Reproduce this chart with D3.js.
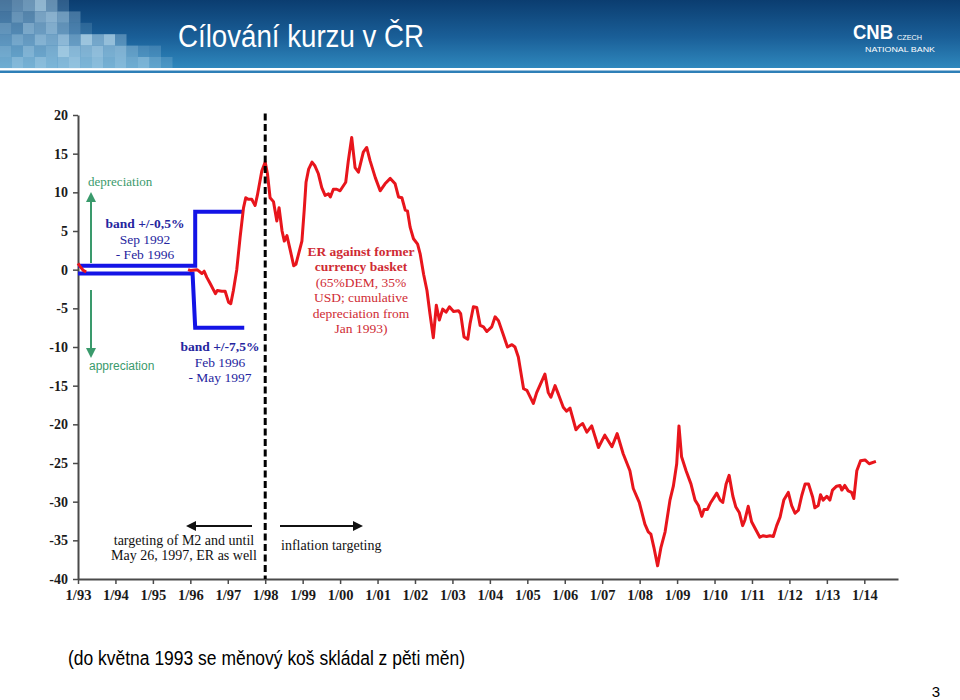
<!DOCTYPE html>
<html>
<head>
<meta charset="utf-8">
<script src="https://cdn.jsdelivr.net/npm/d3@7"></script>
<style>
body { margin: 0; background: #fff; }
svg { display: block; }
</style>
</head>
<body>
<svg id="chart" width="960" height="700"></svg>
<script>
// ER against former currency basket, cumulative % change since Jan 1993
var erTime = [1993.00, 1993.06, 1993.14, 1993.22, 1995.90,
  1995.94, 1996.00, 1996.18, 1996.31, 1996.37, 1996.44, 1996.53, 1996.67, 1996.72, 1996.84,
  1996.93, 1997.02, 1997.08, 1997.15, 1997.24, 1997.33, 1997.42, 1997.48, 1997.55, 1997.64,
  1997.73, 1997.79, 1997.91, 1998.00, 1998.06, 1998.13, 1998.22, 1998.31, 1998.37, 1998.45,
  1998.51, 1998.58, 1998.67, 1998.76, 1998.82, 1998.89, 1998.98, 1999.04, 1999.09, 1999.16,
  1999.25, 1999.33, 1999.42, 1999.51, 1999.60, 1999.69, 1999.74, 1999.82, 1999.91, 2000.00,
  2000.15, 2000.22, 2000.31, 2000.40, 2000.49, 2000.62, 2000.71, 2000.80, 2000.94, 2001.07,
  2001.20, 2001.34, 2001.47, 2001.56, 2001.65, 2001.74, 2001.80, 2001.87, 2001.96, 2002.07,
  2002.14, 2002.23, 2002.32, 2002.40, 2002.49, 2002.57, 2002.65, 2002.74, 2002.83, 2002.92,
  2003.03, 2003.16, 2003.22, 2003.31, 2003.41, 2003.47, 2003.56, 2003.65, 2003.74, 2003.83,
  2003.92, 2004.05, 2004.14, 2004.23, 2004.35, 2004.47, 2004.59, 2004.67, 2004.76, 2004.90,
  2004.99, 2005.16, 2005.25, 2005.47, 2005.56, 2005.63, 2005.74, 2005.83, 2005.96, 2006.05,
  2006.14, 2006.30, 2006.39, 2006.48, 2006.59, 2006.72, 2006.90, 2007.07, 2007.26, 2007.40,
  2007.56, 2007.74, 2007.83, 2007.99, 2008.14, 2008.23, 2008.30, 2008.38, 2008.48, 2008.57,
  2008.68, 2008.81, 2008.90, 2008.99, 2009.05, 2009.12, 2009.24, 2009.37, 2009.48, 2009.57,
  2009.66, 2009.72, 2009.81, 2009.90, 2010.06, 2010.15, 2010.22, 2010.31, 2010.39, 2010.49,
  2010.57, 2010.66, 2010.75, 2010.81, 2010.90, 2010.99, 2011.11, 2011.21, 2011.30, 2011.39,
  2011.48, 2011.57, 2011.66, 2011.75, 2011.85, 2011.97, 2012.06, 2012.15, 2012.24, 2012.33,
  2012.42, 2012.51, 2012.62, 2012.68, 2012.77, 2012.83, 2012.90, 2013.00, 2013.08, 2013.15,
  2013.26, 2013.35, 2013.40, 2013.48, 2013.57, 2013.66, 2013.72, 2013.80, 2013.90, 2014.02,
  2014.13, 2014.31];
var erValue = [0.8, 0.4, -0.1, -0.3, null,
  0.0, -0.1, 0.0, -0.5, -0.2, -1.0, -1.8, -3.1, -2.7, -2.8,
  -2.8, -4.2, -4.4, -2.7, 0.0, 4.2, 8.0, 9.3, 9.1, 9.1,
  8.3, 9.6, 12.8, 13.9, 12.4, 9.3, 8.8, 6.3, 8.0, 5.0,
  3.7, 4.4, 2.5, 0.5, 0.7, 2.0, 3.7, 7.6, 11.3, 13.0,
  13.9, 13.4, 12.4, 10.6, 9.6, 9.8, 9.4, 10.4, 10.4, 10.2,
  11.3, 14.1, 17.1, 13.2, 12.6, 15.2, 15.8, 14.1, 11.9, 10.2,
  11.1, 11.8, 11.1, 9.4, 9.3, 7.7, 7.6, 5.5, 4.0, 3.3,
  2.0, -0.6, -2.7, -5.7, -8.8, -4.6, -6.5, -5.1, -5.5, -4.8,
  -5.4, -5.3, -5.7, -8.7, -9.0, -7.0, -4.8, -4.9, -7.2, -7.4,
  -8.0, -7.4, -6.1, -6.6, -8.3, -10.0, -9.7, -10.0, -11.3, -15.4,
  -15.6, -17.3, -15.9, -13.5, -15.9, -16.5, -15.0, -16.1, -17.8, -18.3,
  -17.9, -20.7, -20.2, -19.9, -21.0, -20.2, -23.0, -21.4, -22.9, -21.2,
  -23.8, -26.0, -28.3, -30.1, -32.9, -33.9, -34.2, -35.9, -38.3, -35.9,
  -33.9, -29.8, -28.0, -25.1, -20.2, -24.2, -26.0, -27.7, -29.8, -30.5,
  -31.9, -31.0, -31.0, -30.1, -28.9, -29.8, -30.1, -27.7, -26.6, -29.3,
  -30.7, -31.4, -33.1, -32.4, -30.6, -32.6, -33.7, -34.6, -34.4, -34.5,
  -34.4, -34.5, -33.1, -32.0, -29.8, -28.8, -30.5, -31.5, -31.1, -29.2,
  -27.7, -27.7, -29.4, -30.8, -30.5, -29.1, -29.8, -29.3, -29.8, -28.5,
  -28.0, -27.9, -28.5, -27.9, -28.6, -28.8, -29.6, -26.0, -24.7, -24.6,
  -25.1, -24.8];

// fluctuation bands (Sep 1992 - Feb 1996 +/-0.5 %, Feb 1996 - May 1997 +/-7.5 %)
var bandUpperTime = [1993.0, 1996.13, 1996.13, 1997.42];
var bandUpperValue = [0.5, 0.5, 7.5, 7.5];
var bandLowerTime = [1993.0, 1996.06, 1996.13, 1997.44];
var bandLowerValue = [-0.5, -0.5, -7.5, -7.5];

var xTickYears = [1993, 1994, 1995, 1996, 1997, 1998, 1999, 2000, 2001, 2002, 2003,
  2004, 2005, 2006, 2007, 2008, 2009, 2010, 2011, 2012, 2013, 2014];
var xTickLabels = ["1/93", "1/94", "1/95", "1/96", "1/97", "1/98", "1/99", "1/00", "1/01",
  "1/02", "1/03", "1/04", "1/05", "1/06", "1/07", "1/08", "1/09", "1/10", "1/11", "1/12",
  "1/13", "1/14"];
var yTicks = [20, 15, 10, 5, 0, -5, -10, -15, -20, -25, -30, -35, -40];

var regimeChange = 1998.0;

var svg = d3.select("#chart");
var serif = "'Liberation Serif', 'Times New Roman', serif";
var sans = "'Liberation Sans', Arial, sans-serif";

// ---- header band ----
var defs = svg.append("defs");
var grad = defs.append("linearGradient")
    .attr("id", "head").attr("x1", 0).attr("y1", 0).attr("x2", 0).attr("y2", 1);
grad.append("stop").attr("offset", "0%").attr("stop-color", "#0b3d70");
grad.append("stop").attr("offset", "55%").attr("stop-color", "#1a5f98");
grad.append("stop").attr("offset", "100%").attr("stop-color", "#2f88bd");

svg.append("rect").attr("x", 0).attr("y", 0).attr("width", 960).attr("height", 68)
    .attr("fill", "url(#head)");
svg.append("rect").attr("x", 0).attr("y", 70.5).attr("width", 960).attr("height", 2.5)
    .attr("fill", "#2e7fb7");

// decorative squares in the top-left corner (opacity of a light tile)
var mosaic = [
  [0.35, 0.45, 0.55, 0.75, 0.50, 0.20],
  [0.30, 0.50, 0.40, 0.60, 0.70, 0.55, 0.30],
  [0.45, 0.35, 0.60, 0.50, 0.65, 0.45, 0.30, 0.15],
  [0.40, 0.55, 0.45, 0.65, 0.55, 0.70, 0.45, 0.80, 0.55, 0.75, 0.35],
  [0.50, 0.40, 0.60, 0.45, 0.55, 0.80, 0.65, 0.60, 0.70, 0.55, 0.60, 0.40, 0.25, 0.20],
  [0.45, 0.60, 0.50, 0.65, 0.55, 0.60, 0.70, 0.55, 0.65, 0.50, 0.60, 0.45, 0.55, 0.35, 0.20]
];
mosaic.forEach(function(row, r) {
  row.forEach(function(o, c) {
    svg.append("rect")
      .attr("x", c * 11.5).attr("y", r * 11.4)
      .attr("width", 11.5).attr("height", 11.4)
      .attr("fill", "#bcdcee").attr("fill-opacity", o);
  });
});

var narrow = "'Liberation Sans Narrow', 'Arial Narrow', 'Liberation Sans', sans-serif";
svg.append("text")
    .attr("x", 178).attr("y", 47)
    .attr("font-family", narrow)
    .attr("font-size", 31)
    .attr("textLength", 246).attr("lengthAdjust", "spacingAndGlyphs")
    .attr("fill", "#fff")
    .text("Cílování kurzu v ČR");

// bank logo
var logo = svg.append("g").attr("fill", "#fff").attr("font-family", narrow);
logo.append("text").attr("x", 853).attr("y", 39).attr("font-size", 21)
    .attr("font-weight", "bold")
    .attr("textLength", 40).attr("lengthAdjust", "spacingAndGlyphs").text("CNB");
logo.append("text").attr("x", 897).attr("y", 40).attr("font-size", 8)
    .attr("textLength", 25).attr("lengthAdjust", "spacingAndGlyphs").text("CZECH");
logo.append("text").attr("x", 865).attr("y", 51.5).attr("font-size", 8)
    .attr("textLength", 70).attr("lengthAdjust", "spacingAndGlyphs").text("NATIONAL BANK");

// ---- chart ----
var x = d3.scaleLinear().domain([1993, 2014.9]).range([78, 898]);
var y = d3.scaleLinear().domain([-40, 20]).range([579, 115]);

var yAxis = svg.append("g")
    .attr("transform", "translate(" + x(1993) + ",0)")
    .call(d3.axisLeft(y).tickValues(yTicks)
      .tickFormat(function(d) { return String(d); })
      .tickSize(5).tickSizeOuter(0).tickPadding(5));
var xAxis = svg.append("g")
    .attr("transform", "translate(0," + y(-40) + ")")
    .call(d3.axisBottom(x).tickValues(xTickYears)
      .tickFormat(function(d, i) { return xTickLabels[i]; })
      .tickSize(5).tickSizeOuter(0).tickPadding(6));

[yAxis, xAxis].forEach(function(a) {
  a.select(".domain").attr("stroke", "#4a4a4a").attr("stroke-width", 2);
  a.selectAll(".tick line").attr("stroke", "#4a4a4a").attr("stroke-width", 1.5);
  a.selectAll(".tick text").attr("fill", "#1a1a1a").attr("font-family", serif)
    .attr("font-weight", "bold");
});
yAxis.selectAll(".tick text").attr("font-size", 14);
xAxis.selectAll(".tick text").attr("font-size", 14.5);

var line = d3.line()
    .defined(function(d) { return d[1] !== null; })
    .x(function(d) { return x(d[0]); })
    .y(function(d) { return y(d[1]); });

var bands = [d3.zip(bandUpperTime, bandUpperValue), d3.zip(bandLowerTime, bandLowerValue)];
svg.selectAll(".band").data(bands).enter().append("path")
    .attr("class", "band")
    .attr("d", line)
    .attr("fill", "none")
    .attr("stroke", "#1414e6")
    .attr("stroke-width", 4);

svg.append("path")
    .datum(d3.zip(erTime, erValue))
    .attr("d", line)
    .attr("fill", "none")
    .attr("stroke", "#e8151c")
    .attr("stroke-width", 3)
    .attr("stroke-linejoin", "round");

svg.append("line")
    .attr("x1", x(regimeChange)).attr("x2", x(regimeChange))
    .attr("y1", y(20.2)).attr("y2", y(-40))
    .attr("stroke", "#000").attr("stroke-width", 3)
    .attr("stroke-dasharray", "7,3.5");

// ---- arrows ----
function marker(id, color) {
  defs.append("marker").attr("id", id)
    .attr("viewBox", "0 0 10 10").attr("refX", 8).attr("refY", 5)
    .attr("markerWidth", 5).attr("markerHeight", 5).attr("orient", "auto")
    .append("path").attr("d", "M0,0L10,5L0,10z").attr("fill", color);
}
marker("arrG", "#3a9a6c");
marker("arrK", "#111");

function arrow(x1, y1, x2, y2, color, id) {
  svg.append("line").attr("x1", x1).attr("y1", y1).attr("x2", x2).attr("y2", y2)
    .attr("stroke", color).attr("stroke-width", 2)
    .attr("marker-end", "url(#" + id + ")");
}
arrow(91, 263, 91, 194, "#3a9a6c", "arrG");
arrow(91, 290, 91, 356, "#3a9a6c", "arrG");
arrow(252, 526, 188, 526, "#111", "arrK");
arrow(280, 526, 361, 526, "#111", "arrK");

// ---- annotations ----
function label(lines, cx, y0, dy, opts) {
  var t = svg.append("text")
    .attr("text-anchor", opts.anchor || "middle")
    .attr("font-family", opts.font || serif)
    .attr("font-size", opts.size || 14)
    .attr("fill", opts.color);
  lines.forEach(function(l, i) {
    t.append("tspan").attr("x", cx).attr("y", y0 + i * dy)
      .attr("font-weight", (opts.bold && opts.bold.indexOf(i) >= 0) ? "bold" : "normal")
      .text(l);
  });
}

label(["depreciation"], 88, 186, 0, {anchor: "start", size: 13, color: "#3a9a6c"});
label(["appreciation"], 89, 370, 0, {anchor: "start", size: 12, font: sans, color: "#3a9a6c"});

label(["band +/-0,5%", "Sep 1992", "- Feb 1996"], 145, 228, 15.5,
  {size: 13.5, color: "#25259e", bold: [0]});
label(["band +/-7,5%", "Feb 1996", "- May 1997"], 220, 351, 15.5,
  {size: 13.5, color: "#25259e", bold: [0]});

label(["ER against former", "currency basket", "(65%DEM, 35%", "USD; cumulative",
  "depreciation from", "Jan 1993)"], 361, 256, 15.4,
  {size: 13.5, color: "#cf2b34", bold: [0, 1]});

label(["targeting of M2 and until", "May 26, 1997, ER as well"], 184, 545, 15,
  {size: 14, color: "#111"});
label(["inflation targeting"], 281, 550, 0, {anchor: "start", size: 14, color: "#111"});

// ---- footer ----
svg.append("text")
    .attr("x", 68).attr("y", 665)
    .attr("font-family", sans).attr("font-size", 20)
    .attr("textLength", 397).attr("lengthAdjust", "spacingAndGlyphs")
    .attr("fill", "#000")
    .text("(do května 1993 se měnový koš skládal z pěti měn)");
svg.append("text")
    .attr("x", 940).attr("y", 697).attr("text-anchor", "end")
    .attr("font-family", sans).attr("font-size", 15)
    .attr("fill", "#000")
    .text("3");
</script>
</body>
</html>
